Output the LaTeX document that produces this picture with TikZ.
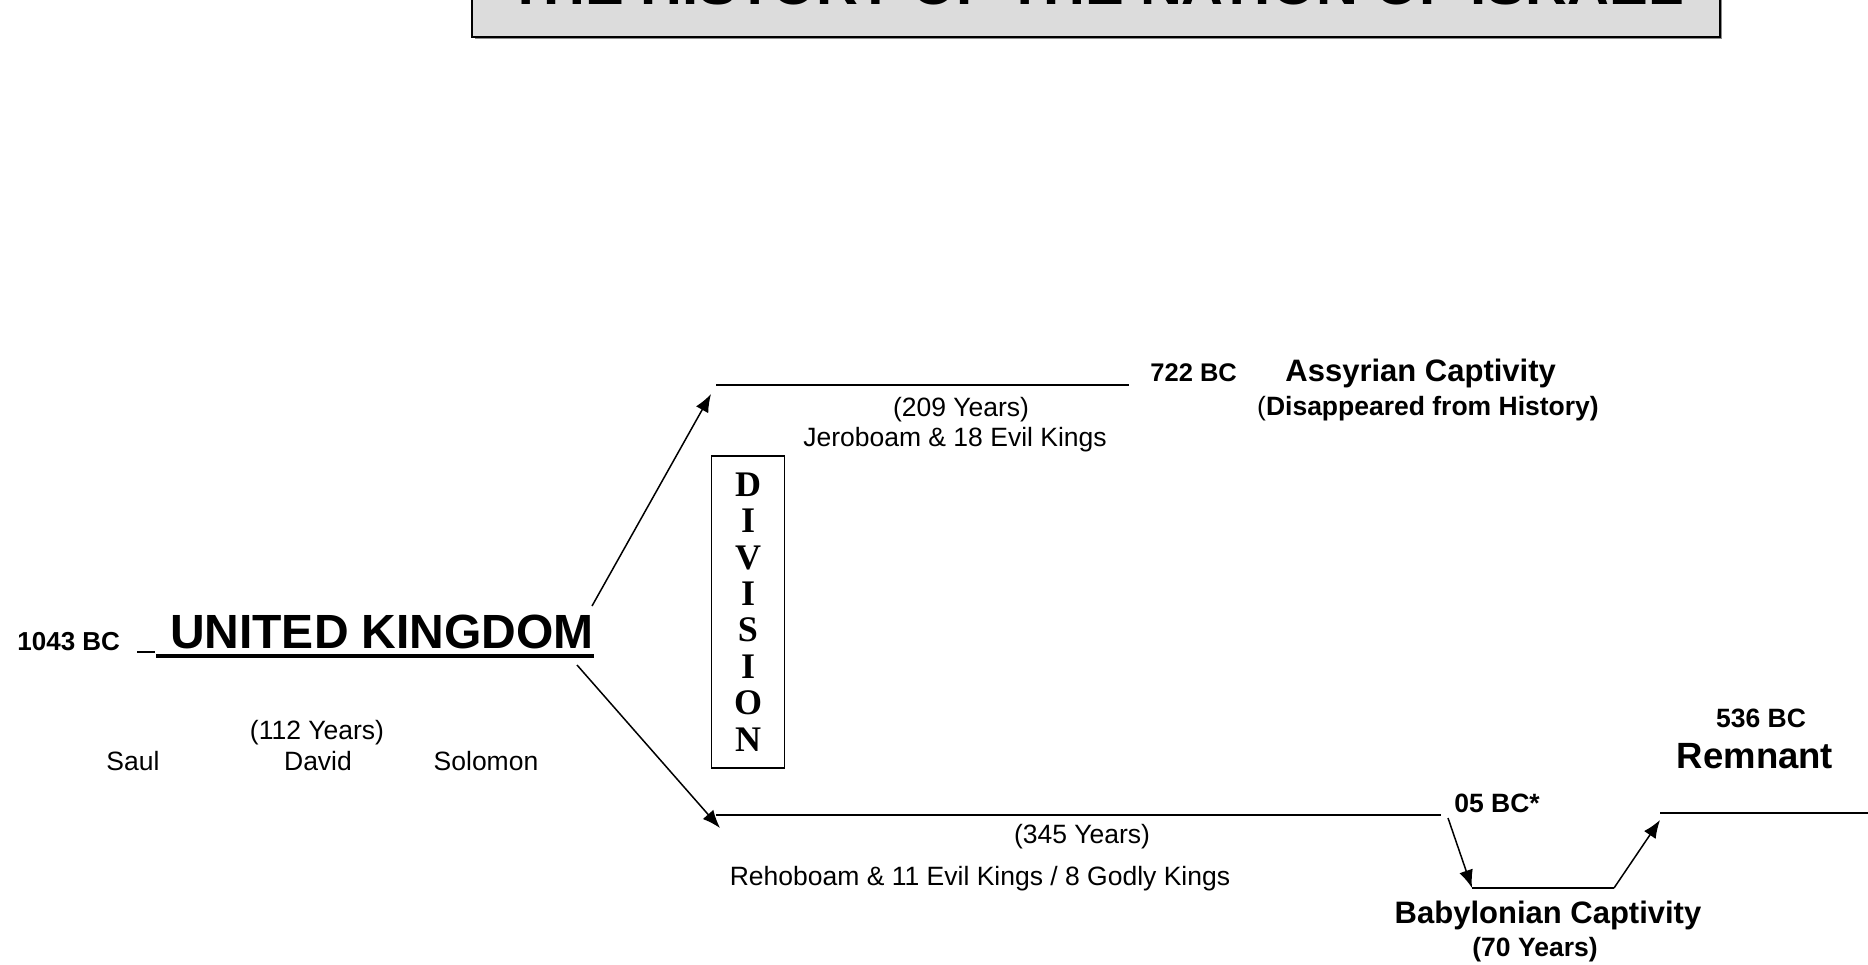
\documentclass[tikz,border=0pt]{standalone}
\usepackage{fontspec}
\setmainfont{Liberation Sans}
\newfontfamily\divfont{Liberation Serif}
\usetikzlibrary{arrows.meta}
\definecolor{titlegray}{HTML}{DCDCDC}
\begin{document}
\begin{tikzpicture}[x=0.5pt,y=-0.5pt,
  reg/.style={font=\fontsize{13.25}{16}\selectfont, inner sep=0pt},
  bld/.style={font=\bfseries\fontsize{#1}{#1}\selectfont, inner sep=0pt},
  tline/.style={line width=0.9pt},
  arr/.style={line width=0.75pt, -{Latex[length=9pt,width=7pt]}},
]
\useasboundingbox (0,0) rectangle (1868,964);
% title box (cut off at top)
\fill[black!45] (475,-60) rectangle (1722,39);
\filldraw[fill=titlegray, draw=black, line width=1pt] (472,-60) rectangle (1720,37);
\node[bld=29, anchor=base] (title) at (1096,4) {THE HISTORY OF THE NATION OF ISRAEL};

% united kingdom
\node[bld=13, anchor=base west] (y1043) at (17,650) {1043 BC};
\node[bld=24, anchor=base] (uk) at (382,648) {UNITED KINGDOM};
\coordinate (usA) at (137,652);
\coordinate (usB) at (155,652);
\coordinate (ulA) at (156,656);
\coordinate (ulB) at (594,656);
\draw[line width=1pt] (usA) -- (usB);
\draw[line width=2pt] (ulA) -- (ulB);
\node[reg, anchor=base] (y112) at (317,739) {(112 Years)};
\node[reg, anchor=base] (saul) at (133,770) {Saul};
\node[reg, anchor=base] (david) at (318,770) {David};
\node[reg, anchor=base] (solomon) at (486,770) {Solomon};

% division
\node[draw, line width=0.8pt, minimum width=36.5pt, minimum height=156pt, inner sep=0pt,
      align=center, font=\divfont\bfseries\fontsize{18}{18.2}\selectfont] (div) at (748,612)
      {D\\I\\V\\I\\S\\I\\O\\N};

% northern kingdom
\coordinate (upS) at (592,606);
\coordinate (upT) at (711,394);
\coordinate (nA) at (716,385);
\coordinate (nB) at (1129,385);
\draw[arr] (upS) -- (upT);
\draw[tline] (nA) -- (nB);
\node[reg, anchor=base] (y209) at (961,416) {(209 Years)};
\node[reg, anchor=base] (jer) at (955,446) {Jeroboam \& 18 Evil Kings};
\node[bld=12.75, anchor=base west] (y722) at (1150,381) {722 BC};
\node[bld=15.5, anchor=base west] (assyr) at (1285,381) {Assyrian Captivity};
\node[bld=13.25, anchor=base] (disap) at (1428,415) {{\mdseries(}Disappeared from History)};

% southern kingdom
\coordinate (dnS) at (577,665);
\coordinate (dnT) at (720,828);
\coordinate (sA) at (716,815);
\coordinate (sB) at (1441,815);
\draw[arr] (dnS) -- (dnT);
\draw[tline] (sA) -- (sB);
\node[reg, anchor=base] (y345) at (1082,843) {(345 Years)};
\node[reg, anchor=base] (reh) at (980,885) {Rehoboam \& 11 Evil Kings / 8 Godly Kings};
\node[bld=13.25, anchor=base west] (y605) at (1454,812) {05 BC*};

% babylonian captivity and remnant
\coordinate (bS) at (1448,818);
\coordinate (bA) at (1472,888);
\coordinate (bB) at (1614,888);
\coordinate (rT) at (1660,820);
\coordinate (rA) at (1660,813);
\coordinate (rB) at (1868,813);
\draw[arr] (bS) -- (bA);
\draw[tline] (bA) -- (bB);
\draw[arr] (bB) -- (rT);
\draw[tline] (rA) -- (rB);
\node[bld=15.5, anchor=base] (babyl) at (1548,923) {Babylonian Captivity};
\node[bld=13.25, anchor=base] (y70) at (1535,956) {(70 Years)};
\node[bld=13.25, anchor=base] (y536) at (1761,727) {536 BC};
\node[bld=18.25, anchor=base] (remn) at (1755,768) {Remnant};
\end{tikzpicture}
\end{document}
